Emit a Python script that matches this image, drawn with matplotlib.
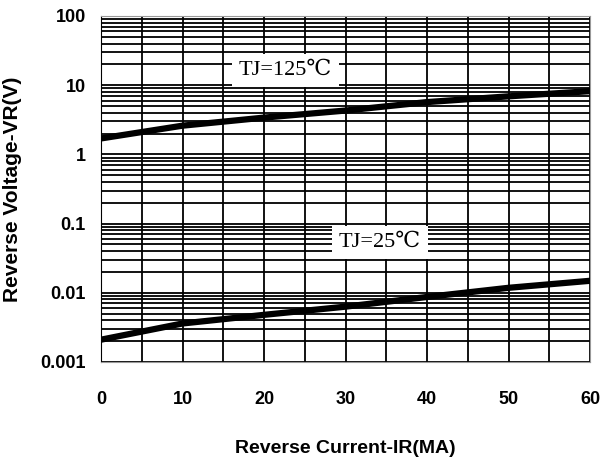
import matplotlib
matplotlib.use("Agg")
import matplotlib.pyplot as plt
from matplotlib.ticker import LogLocator, FixedLocator, FixedFormatter, NullFormatter

# data
current = [0, 10, 20, 30, 40, 50, 60]
vr_125 = [1.7, 2.6, 3.4, 4.3, 5.7, 6.9, 8.2]
vr_25 = [0.0021, 0.0036, 0.0048, 0.0063, 0.0087, 0.0118, 0.0149]
y_ticks = [0.001, 0.01, 0.1, 1, 10, 100]
y_labels = ["0.001", "0.01", "0.1", "1", "10", "100"]
x_ticks = [0, 10, 20, 30, 40, 50, 60]

lab_font = ["Liberation Sans", "DejaVu Sans"]
serif_font = ["Liberation Serif", "DejaVu Serif"]

fig = plt.figure(figsize=(6.07, 4.61), dpi=100)
ax = fig.add_axes([0.1664, 0.2148, 0.8056, 0.7505])

ax.set_yscale("log")
ax.set_xlim(0, 60)
ax.set_ylim(0.001, 100)

# grid: verticals every 5, horizontals at every log subdivision
ax.set_xticks(range(0, 61, 5), minor=True)
ax.xaxis.set_major_locator(FixedLocator(x_ticks))
ax.yaxis.set_major_locator(FixedLocator(y_ticks))
ax.yaxis.set_major_formatter(FixedFormatter(y_labels))
ax.yaxis.set_minor_locator(LogLocator(base=10, subs=range(2, 10), numticks=20))
ax.yaxis.set_minor_formatter(NullFormatter())
ax.grid(True, which="both", color="black", linewidth=1.3)
ax.tick_params(which="both", length=0)
ax.tick_params(axis="x", pad=21)
ax.tick_params(axis="y", pad=11)

ax.plot(current, vr_125, color="black", linewidth=4.5, zorder=3)
ax.plot(current, vr_25, color="black", linewidth=4.5, zorder=3)

ax.text(22.6, 16.5, "TJ=125℃", fontsize=16, family=serif_font,
        ha="center", va="center", zorder=4,
        bbox=dict(facecolor="white", edgecolor="none", pad=5))
ax.text(34.2, 0.053, "TJ=25℃", fontsize=16, family=serif_font,
        ha="center", va="center", zorder=4,
        bbox=dict(facecolor="white", edgecolor="none", pad=5))

for lbl in ax.get_xticklabels() + ax.get_yticklabels():
    lbl.set_fontweight("bold")
    lbl.set_fontsize(13)
    lbl.set_family(lab_font)

ax.set_xlabel("Reverse Current-IR(MA)", fontsize=14, fontweight="bold", family=lab_font)
ax.set_ylabel("Reverse Voltage-VR(V)", fontsize=15, fontweight="bold", family=lab_font)
ax.xaxis.set_label_coords(0.5, -0.225)
ax.yaxis.set_label_coords(-0.162, 0.5)

for side in ["top", "right", "bottom"]:
    ax.spines[side].set_color("#999999")
ax.spines["left"].set_color("black")

fig.savefig("out.png", dpi=100)
